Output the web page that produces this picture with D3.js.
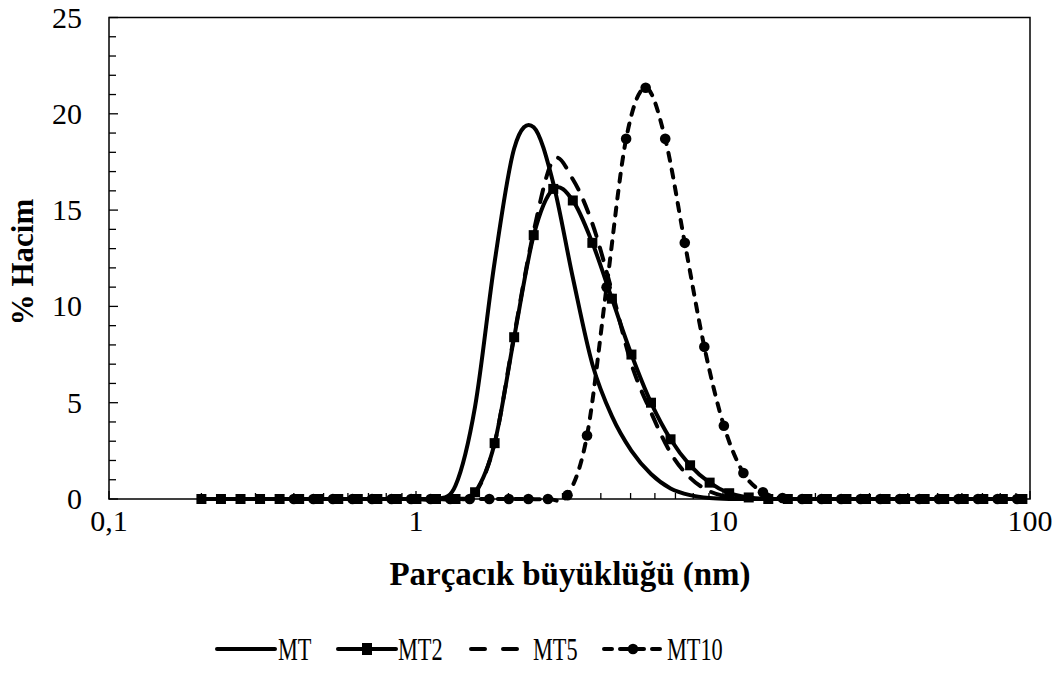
<!DOCTYPE html>
<html><head><meta charset="utf-8">
<script src="https://cdn.jsdelivr.net/npm/d3@7"></script>
<style>
body{margin:0;background:#fff;}
text{font-family:"Liberation Serif","Times New Roman",serif;fill:#000;}
</style></head>
<body><svg id="c" width="1061" height="675"></svg>
<script>
// Size bins (nm): MT, MT2, MT5 share one bin set, MT10 another
const binRatio = 1.1579;
const binsA = d3.range(43).map(i => 0.2 * Math.pow(binRatio, i));
const binsB = d3.range(39).map(i => 0.4 * Math.pow(binRatio, i));

const mtVals  = [0,0,0,0,0,0,0,0,0,0,0,0,0, 0.7,4.8,12.3,18.2,19.3,16.4,11.5,7.0,4.3,2.5,1.3,0.55,0.2,0.05];
const mt2Vals = [0,0,0,0,0,0,0,0,0,0,0,0,0,0, 0.35,2.9,8.4,13.7,16.1,15.5,13.3,10.4,7.5,5.0,3.1,1.75,0.85,0.3,0.08];
const mt5Vals = [0,0,0,0,0,0,0,0,0,0,0,0,0,0, 0.3,2.9,8.5,13.9,17.6,16.6,14.3,10.8,7.0,4.5,2.4,1.1,0.4,0.1];
const mt10Vals = [0,0,0,0,0,0,0,0,0,0,0,0,0,0, 0.2,3.3,11.0,18.7,21.35,18.7,13.3,7.9,3.8,1.35,0.35,0.05];

const seriesNames = ["MT","MT2","MT5","MT10"];
const xTicks = [0.1,1,10,100];
const xTickLabels = ["0,1","1","10","100"];
const yTicks = [0,5,10,15,20,25];
const xTitle = "Parçacık büyüklüğü (nm)";
const yTitle = "% Hacim";

function fill(bins, vals){ return bins.map((b,i)=>({x:b, y: i < vals.length ? vals[i] : 0})); }
const data = {
  MT: fill(binsA, mtVals),
  MT2: fill(binsA, mt2Vals),
  MT5: fill(binsA, mt5Vals),
  MT10: fill(binsB, mt10Vals)
};

const svg = d3.select("#c");
const L=109, R=1030, T=17.5, B=499;
const x = d3.scaleLog().domain([0.1,100]).range([L,R]);
const y = d3.scaleLinear().domain([0,25]).range([B,T]);

svg.append("defs").append("clipPath").attr("id","clip")
  .append("rect").attr("x",L).attr("y",T-10).attr("width",R-L).attr("height",B-T+20);

// frame
svg.append("rect").attr("x",L).attr("y",T).attr("width",R-L).attr("height",B-T)
  .attr("fill","none").attr("stroke","#000").attr("stroke-width",1.5);

// y axis ticks (inward)
const yMinor = d3.range(0,26,1);
svg.append("g").selectAll("line").data(yMinor).join("line")
  .attr("x1",L).attr("x2",d=> d%5===0 ? L+9 : L+7)
  .attr("y1",d=>y(d)).attr("y2",d=>y(d)).attr("stroke","#000").attr("stroke-width",1.3);
svg.append("g").selectAll("text").data(yTicks).join("text")
  .attr("x",L-27).attr("y",d=>y(d)+10).attr("text-anchor","end")
  .attr("font-size",30).text(d=>d);

// x axis ticks (inward)
const xMinor = [];
[0.1,1,10].forEach(dec=>{ for(let k=1;k<10;k++) xMinor.push(dec*k); });
xMinor.push(100);
svg.append("g").selectAll("line").data(xMinor).join("line")
  .attr("x1",d=>x(d)).attr("x2",d=>x(d))
  .attr("y1",B).attr("y2",d=> xTicks.includes(d) ? B-8 : B-6)
  .attr("stroke","#000").attr("stroke-width",1.3);
svg.append("g").selectAll("text").data(xTicks).join("text")
  .attr("x",d=>x(d)).attr("y",B+32).attr("text-anchor","middle")
  .attr("font-size",30).text((d,i)=>xTickLabels[i]);

// titles
svg.append("text").attr("x",570).attr("y",585).attr("text-anchor","middle")
  .attr("font-size",33).attr("font-weight","bold").text(xTitle);
svg.append("text").attr("transform",`translate(33,262) rotate(-90)`)
  .attr("text-anchor","middle").attr("font-size",31).attr("font-weight","bold").text(yTitle);

const line = d3.line().x(d=>x(d.x)).y(d=>y(d.y)).curve(d3.curveCatmullRom.alpha(0));
const styles = {
  MT:   {dash:null},
  MT2:  {dash:null, marker:"square"},
  MT5:  {dash:"13,12"},
  MT10: {dash:"8,9", marker:"circle"}
};
const g = svg.append("g").attr("clip-path","url(#clip)");
seriesNames.forEach(name=>{
  const st = styles[name];
  g.append("path").datum(data[name]).attr("d",line)
    .attr("fill","none").attr("stroke","#000").attr("stroke-width",4)
    .attr("stroke-linecap", st.dash ? "round":"butt")
    .attr("stroke-dasharray", st.dash);
  const pts = data[name].filter(d=>d.x<=100);
  if(st.marker==="square"){
    g.selectAll(null).data(pts).join("rect")
      .attr("x",d=>x(d.x)-5).attr("y",d=>y(d.y)-5).attr("width",10).attr("height",10).attr("fill","#000");
  } else if(st.marker==="circle"){
    g.selectAll(null).data(pts).join("circle")
      .attr("cx",d=>x(d.x)).attr("cy",d=>y(d.y)).attr("r",5.3).attr("fill","#000");
  }
});

// legend
const leg = svg.append("g");
const items = [
  {name:"MT", x0:217, x1:275, tx:278},
  {name:"MT2", x0:338, x1:396, tx:398},
  {name:"MT5", x0:471, x1:520, tx:533},
  {name:"MT10", x0:604, x1:662, tx:667}
];
const ly = 649;
items.forEach(it=>{
  const st = styles[it.name];
  leg.append("line").attr("x1",it.x0).attr("x2",it.x1).attr("y1",ly).attr("y2",ly)
    .attr("stroke","#000").attr("stroke-width",4)
    .attr("stroke-linecap","round")
    .attr("stroke-dasharray", it.name==="MT5" ? "14,18" : (it.name==="MT10" ? "8,8" : null));
  const mx = (it.x0+it.x1)/2;
  if(st.marker==="square") leg.append("rect").attr("x",mx-5).attr("y",ly-6).attr("width",10).attr("height",12).attr("fill","#000");
  if(st.marker==="circle") leg.append("circle").attr("cx",mx).attr("cy",ly).attr("r",5.3).attr("fill","#000");
  leg.append("text").attr("transform",`translate(${it.tx},${ly+11}) scale(0.72,1)`)
    .attr("font-size",31).text(it.name);
});
</script></body></html>
